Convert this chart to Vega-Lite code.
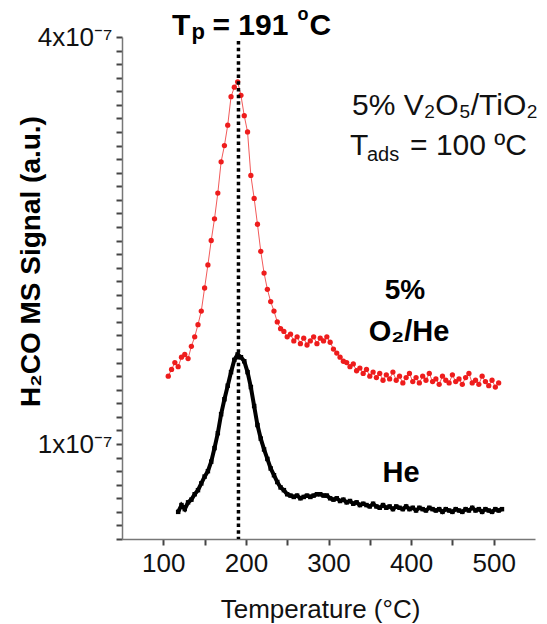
{
  "$schema": "https://vega.github.io/schema/vega-lite/v6.json",
  "width": 413,
  "height": 502,
  "autosize": "none",
  "padding": {"left": 122, "top": 37, "right": 12, "bottom": 85},
  "background": "white",
  "config": {"view": {"stroke": null}, "font": "Liberation Sans", "text": {"font": "Liberation Sans"}},
  "datasets": {
    "o2he": [
      {"T":106,"s":1.50},{"T":110,"s":1.55},{"T":114,"s":1.60},{"T":118,"s":1.57},{"T":122,"s":1.64},{"T":126,"s":1.66},{"T":130,"s":1.63},{"T":134,"s":1.72},{"T":138,"s":1.79},{"T":142,"s":1.88},
      {"T":146,"s":1.98},{"T":150,"s":2.15},{"T":154,"s":2.32},{"T":158,"s":2.50},{"T":162,"s":2.66},{"T":166,"s":2.85},{"T":170,"s":3.08},{"T":174,"s":3.20},{"T":178,"s":3.35},{"T":182,"s":3.56},
      {"T":186,"s":3.63},{"T":190,"s":3.67},{"T":194,"s":3.57},{"T":198,"s":3.42},{"T":202,"s":3.30},{"T":206,"s":2.98},{"T":210,"s":2.81},{"T":214,"s":2.62},{"T":218,"s":2.42},{"T":222,"s":2.26},
      {"T":226,"s":2.14},{"T":230,"s":2.05},{"T":234,"s":1.98},{"T":238,"s":1.90},{"T":242,"s":1.85},{"T":246,"s":1.83},{"T":250,"s":1.79},{"T":254,"s":1.81},{"T":258,"s":1.76},{"T":262,"s":1.79},
      {"T":266,"s":1.74},{"T":270,"s":1.78},{"T":274,"s":1.73},{"T":278,"s":1.76},{"T":282,"s":1.79},{"T":286,"s":1.74},{"T":290,"s":1.78},{"T":294,"s":1.76},{"T":298,"s":1.79},{"T":302,"s":1.75},
      {"T":306,"s":1.70},{"T":310,"s":1.67},{"T":314,"s":1.64},{"T":318,"s":1.61},{"T":322,"s":1.60},{"T":326,"s":1.57},{"T":330,"s":1.59},{"T":334,"s":1.54},{"T":338,"s":1.56},{"T":342,"s":1.52},
      {"T":346,"s":1.55},{"T":350,"s":1.50},{"T":354,"s":1.53},{"T":358,"s":1.49},{"T":362,"s":1.52},{"T":366,"s":1.47},{"T":370,"s":1.51},{"T":374,"s":1.48},{"T":378,"s":1.53},{"T":382,"s":1.47},
      {"T":386,"s":1.50},{"T":390,"s":1.45},{"T":394,"s":1.49},{"T":398,"s":1.52},{"T":402,"s":1.46},{"T":406,"s":1.49},{"T":410,"s":1.45},{"T":414,"s":1.50},{"T":418,"s":1.47},{"T":422,"s":1.52},
      {"T":426,"s":1.46},{"T":430,"s":1.48},{"T":434,"s":1.44},{"T":438,"s":1.50},{"T":442,"s":1.47},{"T":446,"s":1.45},{"T":450,"s":1.51},{"T":454,"s":1.46},{"T":458,"s":1.48},{"T":462,"s":1.44},
      {"T":466,"s":1.49},{"T":470,"s":1.52},{"T":474,"s":1.45},{"T":478,"s":1.47},{"T":482,"s":1.44},{"T":486,"s":1.50},{"T":490,"s":1.46},{"T":494,"s":1.43},{"T":498,"s":1.47},{"T":502,"s":1.42},
      {"T":506,"s":1.45}
    ],
    "he": [
      {"T":118,"s":0.50},{"T":122,"s":0.55},{"T":126,"s":0.52},{"T":130,"s":0.57},{"T":134,"s":0.59},{"T":138,"s":0.63},{"T":142,"s":0.66},{"T":146,"s":0.71},{"T":150,"s":0.76},{"T":154,"s":0.80},
      {"T":158,"s":0.87},{"T":162,"s":0.97},{"T":166,"s":1.08},{"T":170,"s":1.22},{"T":174,"s":1.33},{"T":178,"s":1.43},{"T":182,"s":1.53},{"T":186,"s":1.62},{"T":190,"s":1.66},{"T":194,"s":1.64},
      {"T":198,"s":1.61},{"T":202,"s":1.53},{"T":206,"s":1.42},{"T":210,"s":1.28},{"T":214,"s":1.14},{"T":218,"s":1.04},{"T":222,"s":0.96},{"T":226,"s":0.89},{"T":230,"s":0.82},{"T":234,"s":0.77},
      {"T":238,"s":0.72},{"T":242,"s":0.68},{"T":246,"s":0.66},{"T":250,"s":0.63},{"T":254,"s":0.62},{"T":258,"s":0.61},{"T":262,"s":0.62},{"T":266,"s":0.60},{"T":270,"s":0.61},{"T":274,"s":0.62},
      {"T":278,"s":0.61},{"T":282,"s":0.62},{"T":286,"s":0.63},{"T":290,"s":0.63},{"T":294,"s":0.62},{"T":298,"s":0.62},{"T":302,"s":0.60},{"T":306,"s":0.59},{"T":310,"s":0.60},{"T":314,"s":0.58},
      {"T":318,"s":0.59},{"T":322,"s":0.57},{"T":326,"s":0.58},{"T":330,"s":0.56},{"T":334,"s":0.57},{"T":338,"s":0.55},{"T":342,"s":0.56},{"T":346,"s":0.55},{"T":350,"s":0.54},{"T":354,"s":0.56},
      {"T":358,"s":0.54},{"T":362,"s":0.53},{"T":366,"s":0.55},{"T":370,"s":0.53},{"T":374,"s":0.54},{"T":378,"s":0.52},{"T":382,"s":0.54},{"T":386,"s":0.53},{"T":390,"s":0.52},{"T":394,"s":0.54},
      {"T":398,"s":0.52},{"T":402,"s":0.53},{"T":406,"s":0.51},{"T":410,"s":0.53},{"T":414,"s":0.52},{"T":418,"s":0.51},{"T":422,"s":0.53},{"T":426,"s":0.52},{"T":430,"s":0.51},{"T":434,"s":0.52},
      {"T":438,"s":0.50},{"T":442,"s":0.52},{"T":446,"s":0.51},{"T":450,"s":0.50},{"T":454,"s":0.52},{"T":458,"s":0.51},{"T":462,"s":0.50},{"T":466,"s":0.52},{"T":470,"s":0.51},{"T":474,"s":0.53},
      {"T":478,"s":0.51},{"T":482,"s":0.52},{"T":486,"s":0.50},{"T":490,"s":0.52},{"T":494,"s":0.51},{"T":498,"s":0.50},{"T":502,"s":0.52},{"T":506,"s":0.51},{"T":510,"s":0.52}
    ]
  },
  "layer": [
    {
      "data": {"name": "o2he"},
      "mark": {"type": "line", "color": "#f25a5a", "strokeWidth": 1},
      "encoding": {
        "x": {
          "field": "T", "type": "quantitative",
          "scale": {"domain": [50, 550], "nice": false, "zero": false},
          "axis": {
            "title": "Temperature (°C)",
            "values": [100, 150, 200, 250, 300, 350, 400, 450, 500],
            "tickCount": 100,
            "labelExpr": "datum.value % 100 === 0 ? datum.label : ''",
            "labelFontSize": 26, "labelColor": "#111", "labelPadding": 5,
            "labelOverlap": false, "labelFlush": false,
            "tickSize": 6, "ticks": true,
            "tickColor": "#444", "tickWidth": 2, "domainColor": "#777", "domainWidth": 1.5,
            "grid": false,
            "titleFontSize": 26, "titleFontWeight": "normal", "titleColor": "#111",
            "titleX": 198, "titleY": 78, "titleBaseline": "alphabetic", "titleAlign": "center"
          }
        },
        "y": {
          "field": "s", "type": "quantitative",
          "scale": {"domain": [0.3, 4], "nice": false, "zero": false},
          "axis": {
            "title": "H₂CO MS Signal (a.u.)",
            "values": [0.3,0.4,0.5,0.6,0.7,0.8,0.9,1,1.1,1.2,1.3,1.4,1.5,1.6,1.7,1.8,1.9,2,2.1,2.2,2.3,2.4,2.5,2.6,2.7,2.8,2.9,3,3.1,3.2,3.3,3.4,3.5,3.6,3.7,3.8,3.9,4],
            "tickCount": 100,
            "labelExpr": "abs(datum.value - 1) < 0.001 ? '1x10⁻⁷' : (abs(datum.value - 4) < 0.001 ? '4x10⁻⁷' : '')",
            "labelFontSize": 26, "labelColor": "#111", "labelPadding": 4,
            "labelOverlap": false, "labelFlush": false, "labelBaseline": "middle",
            "tickSize": 6, "ticks": true,
            "tickColor": "#444", "tickWidth": 2, "domainColor": "#777", "domainWidth": 1.5,
            "grid": false,
            "titleFontSize": 28, "titleFontWeight": "bold", "titleColor": "#000",
            "titleAngle": -90, "titleX": -91, "titleY": 224, "titleAlign": "center", "titleBaseline": "middle"
          }
        }
      }
    },
    {
      "data": {"name": "o2he"},
      "mark": {"type": "point", "filled": true, "color": "#ee1c1c", "size": 28, "opacity": 1},
      "encoding": {
        "x": {"field": "T", "type": "quantitative"},
        "y": {"field": "s", "type": "quantitative"}
      }
    },
    {
      "data": {"name": "he"},
      "mark": {"type": "line", "color": "#000", "strokeWidth": 4},
      "encoding": {
        "x": {"field": "T", "type": "quantitative"},
        "y": {"field": "s", "type": "quantitative"}
      }
    },
    {
      "data": {"name": "he"},
      "mark": {"type": "point", "shape": "square", "filled": true, "color": "#000", "size": 20, "opacity": 1},
      "encoding": {
        "x": {"field": "T", "type": "quantitative"},
        "y": {"field": "s", "type": "quantitative"}
      }
    },
    {
      "data": {"values": [{}]},
      "layer": [
        {
          "mark": {"type": "rule", "color": "#000", "strokeWidth": 3.5, "strokeDash": [3.5, 3.2]},
          "encoding": {
            "x": {"datum": 191, "type": "quantitative"},
            "y": {"datum": 3.97, "type": "quantitative"},
            "y2": {"datum": 0.3}
          }
        },
        {
          "mark": {"type": "text", "text": "T", "fontSize": 30, "fontWeight": "bold", "align": "left", "baseline": "alphabetic", "dx": -66.5, "dy": -2, "color": "#000"},
          "encoding": {"x": {"datum": 191, "type": "quantitative"}, "y": {"datum": 4, "type": "quantitative"}}
        },
        {
          "mark": {"type": "text", "text": "p", "fontSize": 22, "fontWeight": "bold", "align": "left", "baseline": "alphabetic", "dx": -47, "dy": 2, "color": "#000"},
          "encoding": {"x": {"datum": 191, "type": "quantitative"}, "y": {"datum": 4, "type": "quantitative"}}
        },
        {
          "mark": {"type": "text", "text": "= 191", "fontSize": 30, "fontWeight": "bold", "align": "left", "baseline": "alphabetic", "dx": -26, "dy": -2, "color": "#000"},
          "encoding": {"x": {"datum": 191, "type": "quantitative"}, "y": {"datum": 4, "type": "quantitative"}}
        },
        {
          "mark": {"type": "text", "text": "o", "fontSize": 18, "fontWeight": "bold", "align": "left", "baseline": "alphabetic", "dx": 59, "dy": -17, "color": "#000"},
          "encoding": {"x": {"datum": 191, "type": "quantitative"}, "y": {"datum": 4, "type": "quantitative"}}
        },
        {
          "mark": {"type": "text", "text": "C", "fontSize": 30, "fontWeight": "bold", "align": "left", "baseline": "alphabetic", "dx": 71, "dy": -2, "color": "#000"},
          "encoding": {"x": {"datum": 191, "type": "quantitative"}, "y": {"datum": 4, "type": "quantitative"}}
        },
        {
          "mark": {"type": "text", "text": "5% V₂O₅/TiO₂", "fontSize": 30, "fontWeight": "normal", "align": "center", "baseline": "alphabetic", "color": "#111"},
          "encoding": {"x": {"datum": 441, "type": "quantitative"}, "y": {"datum": 3.426, "type": "quantitative"}}
        },
        {
          "mark": {"type": "text", "text": "T", "fontSize": 30, "fontWeight": "normal", "align": "left", "baseline": "alphabetic", "color": "#111"},
          "encoding": {"x": {"datum": 326, "type": "quantitative"}, "y": {"datum": 3.132, "type": "quantitative"}}
        },
        {
          "mark": {"type": "text", "text": "ads", "fontSize": 20, "fontWeight": "normal", "align": "left", "baseline": "alphabetic", "color": "#111"},
          "encoding": {"x": {"datum": 346.6, "type": "quantitative"}, "y": {"datum": 3.088, "type": "quantitative"}}
        },
        {
          "mark": {"type": "text", "text": "= 100 ºC", "fontSize": 30, "fontWeight": "normal", "align": "left", "baseline": "alphabetic", "color": "#111"},
          "encoding": {"x": {"datum": 398.7, "type": "quantitative"}, "y": {"datum": 3.132, "type": "quantitative"}}
        },
        {
          "mark": {"type": "text", "text": "5%", "fontSize": 28, "fontWeight": "bold", "align": "center", "baseline": "alphabetic", "color": "#000"},
          "encoding": {"x": {"datum": 392.6, "type": "quantitative"}, "y": {"datum": 2.066, "type": "quantitative"}}
        },
        {
          "mark": {"type": "text", "text": "O₂/He", "fontSize": 29, "fontWeight": "bold", "align": "center", "baseline": "alphabetic", "color": "#000"},
          "encoding": {"x": {"datum": 397.5, "type": "quantitative"}, "y": {"datum": 1.757, "type": "quantitative"}}
        },
        {
          "mark": {"type": "text", "text": "He", "fontSize": 29, "fontWeight": "bold", "align": "center", "baseline": "alphabetic", "color": "#000"},
          "encoding": {"x": {"datum": 387.8, "type": "quantitative"}, "y": {"datum": 0.72, "type": "quantitative"}}
        }
      ]
    }
  ]
}
